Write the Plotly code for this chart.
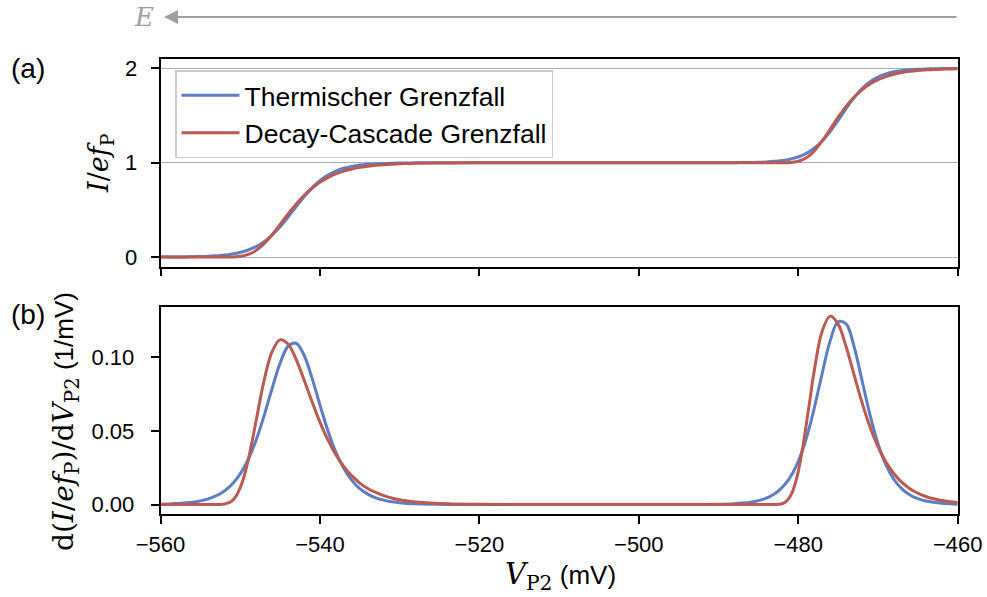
import plotly.graph_objects as go
from plotly.subplots import make_subplots

# ---- data ----
v_p2 = [-560, -559, -558, -557, -556, -555, -554, -553, -552.5, -552, -551.5, -551,
        -550.5, -550, -549.5, -549, -548.5, -548, -547, -546, -545, -544, -543, -542,
        -541, -540, -539, -538, -537, -536, -535, -534, -533, -532, -531, -530, -529,
        -528, -524, -520, -516, -512, -508, -504, -500, -496, -492,
        -488, -487, -486, -485, -484, -483, -482.5, -482, -481.5, -481, -480.5, -480,
        -479.5, -479, -478.5, -478, -477, -476, -475, -474, -473, -472, -471, -470,
        -469, -468, -467, -466, -465, -464, -463, -462, -461, -460]

current_thermal = [0.001, 0.001, 0.002, 0.002, 0.004, 0.006, 0.009, 0.014, 0.017, 0.021, 0.026,
                   0.033, 0.04, 0.05, 0.061, 0.075, 0.092, 0.112, 0.164, 0.234, 0.321, 0.424,
                   0.533, 0.639, 0.733, 0.81, 0.869, 0.911, 0.941, 0.961, 0.975, 0.984, 0.989,
                   0.993, 0.996, 0.997, 0.998, 0.999, 1, 1, 1, 1, 1, 1, 1, 1, 1, 1.001, 1.002,
                   1.003, 1.005, 1.009, 1.015, 1.019, 1.024, 1.03, 1.039, 1.049, 1.062, 1.079,
                   1.099, 1.124, 1.154, 1.231, 1.331, 1.45, 1.575, 1.691, 1.787, 1.859, 1.909,
                   1.943, 1.965, 1.978, 1.987, 1.992, 1.995, 1.997, 1.998, 1.999, 1.999]

current_cascade = [0, 0, 0, 0, 0, 0, 0, 0, 0, 0, 0, 0.001, 0.003, 0.008, 0.015, 0.028, 0.046,
                   0.071, 0.142, 0.237, 0.345, 0.457, 0.561, 0.653, 0.73, 0.793, 0.843, 0.881,
                   0.911, 0.934, 0.951, 0.963, 0.973, 0.98, 0.985, 0.989, 0.992, 0.994, 0.998,
                   0.999, 1, 1, 1, 1, 1, 1, 1, 1, 1, 1, 1, 1, 1, 1, 1, 1.001, 1.003, 1.007,
                   1.016, 1.03, 1.053, 1.084, 1.125, 1.231, 1.355, 1.481, 1.597, 1.694, 1.773,
                   1.834, 1.88, 1.913, 1.938, 1.956, 1.969, 1.978, 1.984, 1.989, 1.992, 1.994,
                   1.996]

deriv_thermal = [.0003, .0004, .0007, .0011, .0016, .0025, .0039, .006, .0074, .0092, .0113,
                 .0139, .0171, .0208, .0253, .0306, .0368, .0438, .0604, .0788, .0959, .1074,
                 .1095, .1015, .086, .0676, .0501, .0355, .0244, .0164, .0108, .0071, .0046,
                 .003, .0019, .0013, .0008, .0005, .0001, 0, 0, 0, 0, 0, 0, 0, .0001, .0006,
                 .001, .0016, .0027, .0044, .0072, .0092, .0117, .0148, .0187, .0235, .0294,
                 .0364, .0448, .0544, .0653, .089, .1111, .1241, .1226, .1072, .0842, .0608,
                 .0413, .0269, .017, .0106, .0065, .004, .0024, .0015, .0009, .0005, .0003]

deriv_cascade = [0, 0, 0, 0, 0, 0, 0, 0,
                 .0001, .0004, .0011, .0027, .0059, .0114, .0194, .0301, .043, .057,
                 .0843, .1038, .1118, .109, .0987, .0847, .0699, .056, .0439, .0339,
                 .0258, .0195, .0146, .0109, .0082, .0061, .0045, .0033, .0025, .0018,
                 .0005, .0002,
                 0, 0, 0, 0, 0, 0, 0, 0, 0, 0, 0, 0, 0,
                 .0002, .0007, .0022, .0056, .0121, .0225, .0368, .0541, .0726, .0906,
                 .1177, .1279, .1225, .1072, .0881, .0692, .0527, .0393, .0288, .0209,
                 .015, .0108, .0077, .0055, .0039, .0027, .0019, .0014]

x_ticks = [-560, -540, -520, -500, -480, -460]
y_ticks_a = [0, 1, 2]
y_ticks_b = [0.0, 0.05, 0.10]
series_names = ["Thermischer Grenzfall", "Decay-Cascade Grenzfall"]

BLUE = "#5E7DC4"
RED = "#BA5A50"
W, H = 987, 597
SANS = "Liberation Sans, Arial, sans-serif"
SERIF = "DejaVu Serif, serif"


def px(x):
    return x / W


def py(y):
    return 1 - y / H


fig = make_subplots(rows=2, cols=1)

for name, col, ycur, yder in [(series_names[0], BLUE, current_thermal, deriv_thermal),
                              (series_names[1], RED, current_cascade, deriv_cascade)]:
    fig.add_trace(go.Scatter(x=v_p2, y=ycur, mode="lines", name=name, legendgroup=name,
                             line=dict(color=col, width=3, shape="spline", smoothing=1)),
                  row=1, col=1)
    fig.add_trace(go.Scatter(x=v_p2, y=yder, mode="lines", name=name, legendgroup=name,
                             showlegend=False,
                             line=dict(color=col, width=3, shape="spline", smoothing=1)),
                  row=2, col=1)

xdom = [px(160.5), px(957.7)]
axis_common = dict(showline=True, linecolor="black", linewidth=1.5, mirror=True,
                   ticks="outside", ticklen=8, tickwidth=1.5, tickcolor="black",
                   tickfont=dict(family=SANS, size=22, color="black"), zeroline=False,
                   automargin=False)

fig.update_xaxes(domain=xdom, range=[-560, -460], tickvals=x_ticks, showgrid=False,
                 **axis_common)
fig.update_xaxes(showticklabels=False, row=1, col=1)
fig.update_xaxes(ticklabelstandoff=2, row=2, col=1)

fig.update_yaxes(domain=[py(266.5), py(59)], range=[-0.1, 2.1], tickvals=y_ticks_a,
                 ticktext=["0", "1", "2"], showgrid=True, gridcolor="#b0b0b0", gridwidth=1,
                 ticklabelstandoff=9, row=1, col=1, **axis_common)
fig.update_yaxes(domain=[py(514), py(306.7)], range=[-0.0064, 0.1343], tickvals=y_ticks_b,
                 ticktext=["0.00", "0.05", "0.10"], showgrid=False, ticklabelstandoff=12,
                 row=2, col=1, **axis_common)

SANS_SPAN = "<span style='font-family:Liberation Sans;font-size:26px'>%s</span>"
annotations = [
    dict(x=px(100), y=py(163), text="<i>I</i>/<i>ef</i><sub>P</sub>", textangle=-90,
         font=dict(family=SERIF, size=27, color="black")),
    dict(x=px(65), y=py(422),
         text="d(<i>I</i>/<i>ef</i><sub>P</sub>)/d<i>V</i><sub>P2</sub>" + SANS_SPAN % " (1/mV)",
         textangle=-90, font=dict(family=SERIF, size=28, color="black")),
    dict(x=px(560), y=py(576),
         text="<i>V</i><sub>P2</sub>" + SANS_SPAN % " (mV)",
         font=dict(family=SERIF, size=29, color="black")),
    dict(x=px(28), y=py(68), text="(a)", font=dict(family=SANS, size=28, color="black")),
    dict(x=px(28), y=py(314), text="(b)", font=dict(family=SANS, size=28, color="black")),
    dict(x=px(144), y=py(17), text="<i>E</i>", font=dict(family=SERIF, size=26, color="#a0a0a0")),
    dict(x=px(164), y=py(17), ax=958 - 164, ay=0, text="", showarrow=True, arrowhead=2,
         arrowsize=1.4, arrowwidth=2, arrowcolor="#a0a0a0", axref="pixel", ayref="pixel"),
]
for a in annotations:
    a.setdefault("showarrow", False)
    a.update(xref="paper", yref="paper", xanchor="center", yanchor="middle")
    fig.add_annotation(**a)

fig.update_layout(
    width=W, height=H, margin=dict(l=0, r=0, t=0, b=0, autoexpand=False),
    paper_bgcolor="white", plot_bgcolor="white",
    showlegend=True,
    legend=dict(x=px(175), y=py(70), xanchor="left", yanchor="top",
                bgcolor="rgba(255,255,255,0.85)", bordercolor="#cccccc", borderwidth=1.5,
                font=dict(family=SANS, size=26.5, color="black"), tracegroupgap=0,
                traceorder="grouped", itemwidth=58),
)

fig.write_html("out.html")
